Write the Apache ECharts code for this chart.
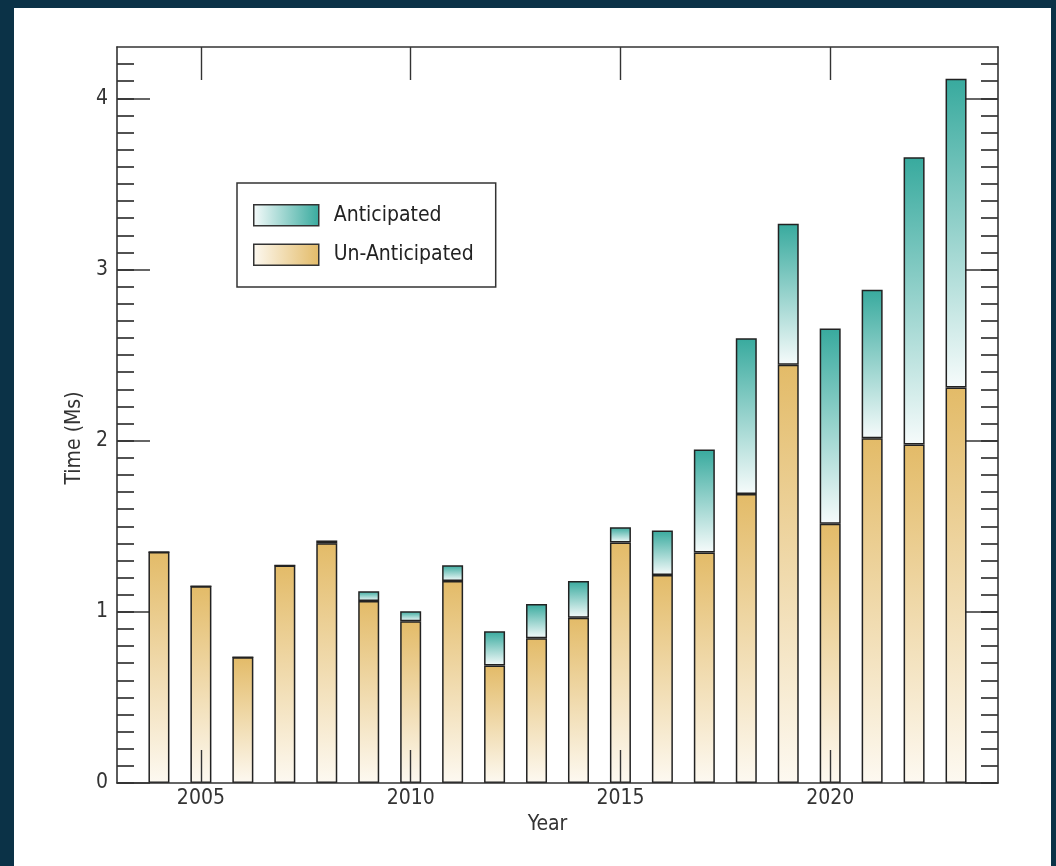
<!DOCTYPE html>
<html>
<head>
<meta charset="utf-8">
<script src="https://cdn.jsdelivr.net/npm/echarts@6/dist/echarts.min.js"></script>
<style>
html,body{margin:0;padding:0;background:#0b3247;}
#chart{width:1056px;height:866px;}
</style>
</head>
<body>
<div id="chart"></div>
<script>
// ---- data ----
const axisYears = ['2003','2004','2005','2006','2007','2008','2009','2010','2011','2012','2013','2014','2015','2016','2017','2018','2019','2020','2021','2022','2023','2024'];
const years = ['2004','2005','2006','2007','2008','2009','2010','2011','2012','2013','2014','2015','2016','2017','2018','2019','2020','2021','2022','2023'];
const unAnticipated = [1.35,1.15,0.735,1.27,1.40,1.063,0.945,1.18,0.686,0.845,0.966,1.405,1.215,1.347,1.689,2.443,1.514,2.014,1.977,2.311];
const anticipated   = [0,0,0,0,0.017,0.057,0.058,0.092,0.200,0.201,0.214,0.089,0.260,0.601,0.910,0.824,1.141,0.868,1.679,1.804];
const xTickLabels = ['2005','2010','2015','2020'];
const yMajorTicks = [0,1,2,3,4];
const yMinorTicks = [];
for (let i = 0; i <= 42; i++) yMinorTicks.push(i / 10);

const FONT = "'DejaVu Sans Condensed','DejaVu Sans',sans-serif";
const FS = 21;
const AX = '#333';
const GOLD = '#e3bb68', GOLD_L = '#fdf9f1';
const TEAL = '#38aa9e', TEAL_L = '#f6fbfb';

const vGrad = (top, bottom) => ({type:'linear',x:0,y:0,x2:0,y2:1,colorStops:[{offset:0,color:top},{offset:1,color:bottom}]});
const hGrad = (left, right) => ({type:'linear',x:0,y:0,x2:1,y2:0,colorStops:[{offset:0,color:left},{offset:1,color:right}]});

const chart = echarts.init(document.getElementById('chart'), null, {renderer:'canvas'});

const baseY = (pos, ticks, len, showLine, showLabel, extra) => Object.assign({
  type:'value', position:pos, min:0, max:4.3,
  splitLine:{show:false},
  axisLine:{show:showLine, onZero:false, lineStyle:{color:AX, width:1.6}},
  axisTick:{show:true, inside:true, length:len, customValues:ticks, lineStyle:{color:AX, width:1.7}},
  axisLabel:{show:showLabel, customValues:yMajorTicks, margin:9, color:'#333', fontFamily:FONT, fontSize:FS, formatter:v=>String(v)}
}, extra||{});

const isMajorYear = (idx, val) => xTickLabels.indexOf(String(val)) >= 0;

const baseX = (pos, showLabel, extra) => Object.assign({
  type:'category', position:pos, data:axisYears, boundaryGap:false, z:5,
  splitLine:{show:false},
  axisLine:{show:true, onZero:false, lineStyle:{color:AX, width:1.6}},
  axisTick:{show:true, inside:true, length:33, interval:isMajorYear, lineStyle:{color:AX, width:1.4}},
  axisLabel:{show:showLabel, interval:isMajorYear, margin:5, color:'#333', fontFamily:FONT, fontSize:FS}
}, extra||{});

const option = {
  animation:false,
  backgroundColor:'#0b3247',
  graphic:[{type:'rect', z:-100, shape:{x:14,y:8,width:1037,height:858}, style:{fill:'#ffffff'}}],
  grid:{left:117, right:58, top:47, bottom:83, containLabel:false},
  legend:{
    show:true, orient:'vertical', left:237, top:183,
    itemWidth:65, itemHeight:21, itemGap:17,
    padding:[21,22,21,16],
    backgroundColor:'#fff', borderColor:'#333', borderWidth:1.5,
    icon:'rect',
    textStyle:{color:'#222', fontFamily:FONT, fontSize:FS, padding:[0,0,0,10]},
    data:[
      {name:'Anticipated', itemStyle:{color:hGrad(TEAL_L, TEAL), borderColor:'#333', borderWidth:1.5}},
      {name:'Un-Anticipated', itemStyle:{color:hGrad(GOLD_L, GOLD), borderColor:'#333', borderWidth:1.5}}
    ]
  },
  xAxis:[
    baseX('bottom', true, {name:'Year', nameLocation:'middle', nameGap:22,
      nameTextStyle:{color:'#333', fontFamily:FONT, fontSize:FS, padding:[0,20,0,0]}}),
    baseX('top', false)
  ],
  yAxis:[
    baseY('left', yMajorTicks, 33, true, true, {name:'Time (Ms)', nameLocation:'middle', nameGap:32, nameRotate:90,
      nameTextStyle:{color:'#333', fontFamily:FONT, fontSize:FS, padding:[0,46,0,0]}}),
    baseY('left', yMinorTicks, 17, false, false),
    baseY('right', yMajorTicks, 33, true, false),
    baseY('right', yMinorTicks, 17, false, false)
  ],
  series:[
    {
      name:'Un-Anticipated', type:'bar', stack:'t', xAxisIndex:0, yAxisIndex:0, barWidth:21,
      itemStyle:{color:vGrad(GOLD, GOLD_L), borderColor:'#222', borderWidth:1.5},
      data:years.map((y,i)=>[y, unAnticipated[i]])
    },
    {
      name:'Anticipated', type:'bar', stack:'t', xAxisIndex:0, yAxisIndex:0, barWidth:21,
      itemStyle:{color:vGrad(TEAL, TEAL_L), borderColor:'#222', borderWidth:1.5},
      data:years.map((y,i)=>[y, anticipated[i]])
    }
  ]
};
chart.setOption(option);
</script>
</body>
</html>
